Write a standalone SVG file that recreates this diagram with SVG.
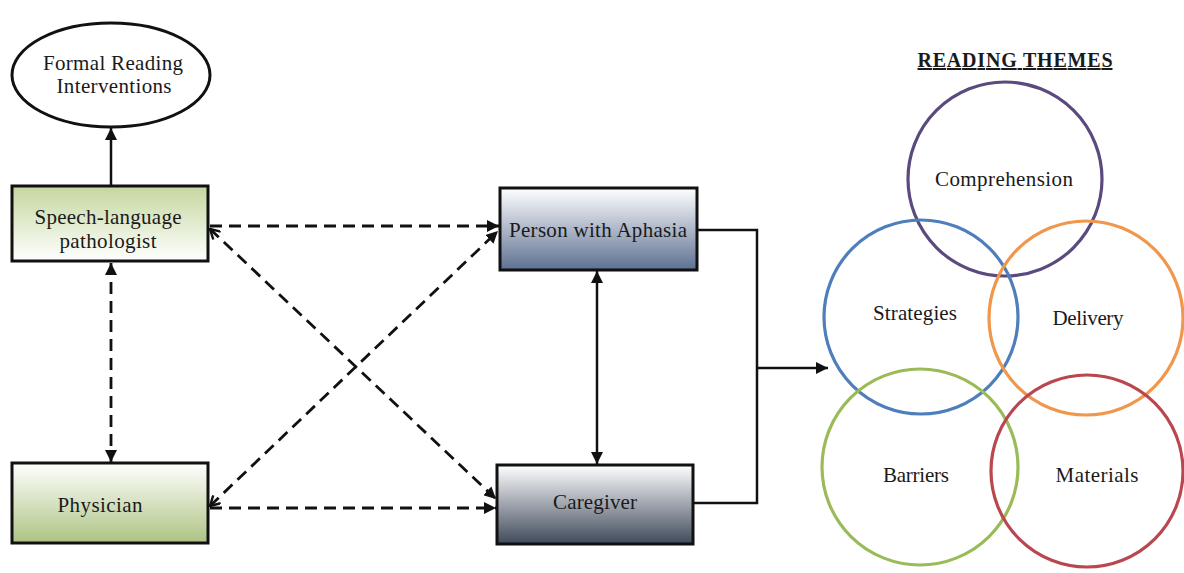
<svg xmlns="http://www.w3.org/2000/svg" width="1184" height="573" viewBox="0 0 1184 573">
<style>
  text { font-family: "Liberation Serif", "Times New Roman", serif; font-size: 21px; fill: #1a1a1a; text-anchor: middle; }
  .box { stroke: #111; stroke-width: 3; }
  .line { stroke: #111; stroke-width: 2.5; fill: none; }
  .dash { stroke: #111; stroke-width: 2.8; fill: none; stroke-dasharray: 12 7; }
  .ring { fill: none; stroke-width: 3.2; }
  .title { font-weight: bold; font-size: 20px; text-decoration: underline; }
</style>
<defs>
  <linearGradient id="gSlp" x1="0" y1="0" x2="0" y2="1">
    <stop offset="0" stop-color="#c4d79e"/>
    <stop offset="1" stop-color="#ffffff"/>
  </linearGradient>
  <linearGradient id="gPhy" x1="0" y1="0" x2="0" y2="1">
    <stop offset="0" stop-color="#ffffff"/>
    <stop offset="1" stop-color="#adc383"/>
  </linearGradient>
  <linearGradient id="gPwa" x1="0" y1="0" x2="0" y2="1">
    <stop offset="0" stop-color="#ffffff"/>
    <stop offset="1" stop-color="#5e7092"/>
  </linearGradient>
  <linearGradient id="gCar" x1="0" y1="0" x2="0" y2="1">
    <stop offset="0" stop-color="#ffffff"/>
    <stop offset="1" stop-color="#3f4a5b"/>
  </linearGradient>
  <marker id="ah" viewBox="0 0 10 10" refX="10" refY="5" markerWidth="12" markerHeight="12" markerUnits="userSpaceOnUse" orient="auto-start-reverse">
    <path d="M0,0 L10,5 L0,10 Z" fill="#111"/>
  </marker>
  <marker id="open" viewBox="0 0 10 10" refX="1" refY="5" markerWidth="12" markerHeight="12" markerUnits="userSpaceOnUse" orient="auto">
    <path d="M9,0.5 L1,5 L9,9.5" fill="none" stroke="#111" stroke-width="2"/>
  </marker>
</defs>

<g id="connectors">
  <line class="line" x1="111" y1="186" x2="111" y2="128" marker-end="url(#ah)"/>
  <line class="dash" x1="111" y1="263" x2="111" y2="462" marker-start="url(#ah)" marker-end="url(#ah)"/>
  <line class="dash" x1="210" y1="226" x2="499" y2="226" marker-end="url(#ah)"/>
  <line class="dash" x1="210" y1="229" x2="496" y2="499" marker-start="url(#open)" marker-end="url(#ah)"/>
  <line class="dash" x1="210" y1="506" x2="498" y2="231" marker-start="url(#open)" marker-end="url(#ah)"/>
  <line class="dash" x1="210" y1="508" x2="496" y2="508" marker-end="url(#ah)"/>
  <line class="line" x1="597" y1="271" x2="597" y2="464" marker-start="url(#ah)" marker-end="url(#ah)"/>
  <path class="line" d="M697,230 H757 V503 H693"/>
  <line class="line" x1="757" y1="368" x2="828" y2="368" marker-end="url(#ah)"/>
</g>

<g id="formal-reading">
  <ellipse cx="111" cy="75" rx="99" ry="52" fill="#fff" stroke="#111" stroke-width="3"/>
  <text x="113" y="70" textLength="140" lengthAdjust="spacing">Formal Reading</text>
  <text x="114" y="93" textLength="115" lengthAdjust="spacing">Interventions</text>
</g>

<g id="slp">
  <rect class="box" x="12" y="186" width="196" height="75" fill="url(#gSlp)"/>
  <text x="108" y="224" textLength="147" lengthAdjust="spacing">Speech-language</text>
  <text x="108" y="248" textLength="97" lengthAdjust="spacing">pathologist</text>
</g>

<g id="physician">
  <rect class="box" x="12" y="463" width="196" height="80" fill="url(#gPhy)"/>
  <text x="100" y="512" textLength="85" lengthAdjust="spacing">Physician</text>
</g>

<g id="pwa">
  <rect class="box" x="500" y="188" width="197" height="82" fill="url(#gPwa)"/>
  <text x="598" y="237" textLength="178" lengthAdjust="spacing">Person with Aphasia</text>
</g>

<g id="caregiver">
  <rect class="box" x="497" y="465" width="196" height="79" fill="url(#gCar)"/>
  <text x="595" y="509" textLength="84" lengthAdjust="spacing">Caregiver</text>
</g>

<g id="reading-themes">
  <text class="title" x="1015" y="67" textLength="195" lengthAdjust="spacing">READING  THEMES</text>
</g>

<g id="comprehension">
  <circle class="ring" cx="1005" cy="179" r="97" stroke="#5b4a7e"/>
  <text x="1004" y="186" textLength="138" lengthAdjust="spacing">Comprehension</text>
</g>
<g id="strategies">
  <circle class="ring" cx="921" cy="317" r="97" stroke="#4f7fbb"/>
  <text x="915" y="320" textLength="84" lengthAdjust="spacing">Strategies</text>
</g>
<g id="delivery">
  <circle class="ring" cx="1086" cy="318" r="97" stroke="#f0974c"/>
  <text x="1088" y="325" textLength="71" lengthAdjust="spacing">Delivery</text>
</g>
<g id="barriers">
  <circle class="ring" cx="920" cy="467" r="98" stroke="#9bbb59"/>
  <text x="916" y="482" textLength="66" lengthAdjust="spacing">Barriers</text>
</g>
<g id="materials">
  <circle class="ring" cx="1087" cy="471" r="96" stroke="#b9474f"/>
  <text x="1097" y="482" textLength="83" lengthAdjust="spacing">Materials</text>
</g>
</svg>
